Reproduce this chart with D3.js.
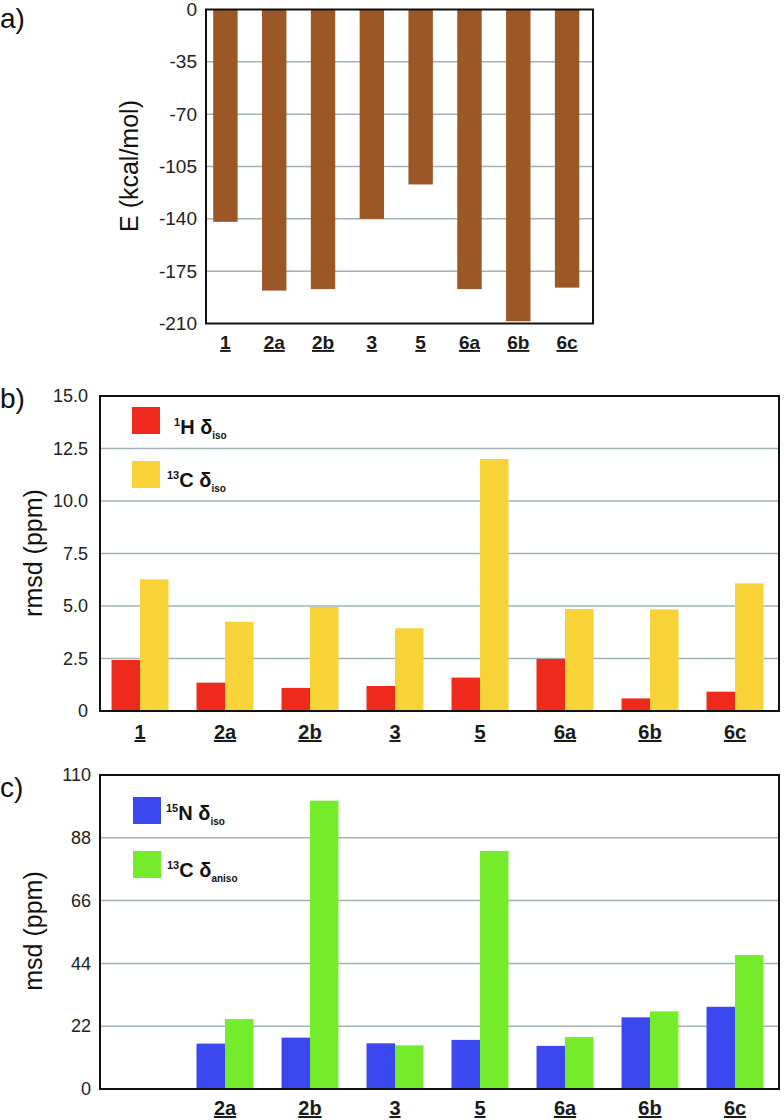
<!DOCTYPE html>
<html><head><meta charset="utf-8">
<script src="https://cdn.jsdelivr.net/npm/d3@7"></script>
<style>
body{margin:0;background:#fff;}
svg{display:block;font-family:"Liberation Sans",Arial,Helvetica,sans-serif;}
</style></head>
<body><svg id="c" width="784" height="1120"></svg>
<script>
// ---- data ----
const categories = ["1","2a","2b","3","5","6a","6b","6c"];
const labelsC = ["","2a","2b","3","5","6a","6b","6c"];
const energy = [-142,-188,-187,-140,-117,-187,-208.5,-186];
const ticksA = [0,-35,-70,-105,-140,-175,-210];
const rmsdH = [2.43,1.35,1.1,1.19,1.59,2.48,0.6,0.92];
const rmsdC = [6.27,4.25,4.95,3.94,12.0,4.86,4.84,6.08];
const ticksB = [0,2.5,5.0,7.5,10.0,12.5,15.0];
const msdN = [null,15.9,18.0,16.0,17.2,15.1,25.1,28.8];
const msdCaniso = [null,24.5,101.0,15.3,83.4,18.2,27.2,46.9];
const ticksC = [0,22,44,66,88,110];

const svg = d3.select("#c");
const gridColor = "#9fb3b6";
const brown = "#9b5726", red = "#ee2a1c", yellow = "#f8d337", blue = "#3b47ef", green = "#74ec2c";

function frame(x0,x1,y0,y1){
  svg.append("rect").attr("x",x0).attr("y",y0).attr("width",x1-x0).attr("height",y1-y0)
    .attr("fill","none").attr("stroke","#111").attr("stroke-width",2);
}
function grid(y,ticks,x0,x1){
  svg.append("g").selectAll("line").data(ticks.filter(t=>y(t)>y.range()[1]+2 && y(t)<y.range()[0]-2)).join("line")
    .attr("x1",x0).attr("x2",x1).attr("y1",d=>y(d)).attr("y2",d=>y(d))
    .attr("stroke",gridColor).attr("stroke-width",1.5);
}
function yAxis(y,ticks,x,fmt,size,dx){
  const ax = d3.axisLeft(y).tickValues(ticks).tickFormat(fmt).tickSize(0).tickPadding(dx);
  const g = svg.append("g").attr("transform",`translate(${x},0)`).call(ax);
  g.select(".domain").remove();
  g.selectAll("text").attr("font-size",size).attr("fill","#222")
    .attr("font-family","Liberation Sans, Arial, sans-serif");
}
function xLabels(x,labels,yb,size){
  svg.append("g").selectAll("text").data(categories).join("text")
    .attr("x",d=>x(d)+x.bandwidth()/2).attr("y",yb).attr("text-anchor","middle")
    .attr("font-size",size).attr("font-weight","bold").attr("fill","#1a1a1a")
    .attr("text-decoration","underline")
    .text((d,i)=>labels[i]);
}
function panelLabel(t,x,y){
  svg.append("text").attr("x",x).attr("y",y).attr("font-size",28).attr("fill","#111").text(t);
}
function yTitle(t,x,y){
  svg.append("text").attr("transform",`translate(${x},${y}) rotate(-90)`).attr("text-anchor","middle")
    .attr("font-size",25).attr("fill","#111").text(t);
}
function legendItem(color,x,y,sup,main,sub,tx,tb){
  svg.append("rect").attr("x",x).attr("y",y).attr("width",28).attr("height",27).attr("fill",color);
  const t = svg.append("text").attr("x",tx).attr("y",tb).attr("font-weight","bold").attr("fill","#111");
  t.append("tspan").attr("font-size",11).attr("dy",-8).text(sup);
  t.append("tspan").attr("font-size",20).attr("dy",8).text(main);
  t.append("tspan").attr("font-size",10).attr("dy",5).text(sub);
}

// ---- panel a ----
{
  const x = d3.scaleBand().domain(categories).range([201,591.5]).paddingInner(0.5).paddingOuter(0.25);
  const y = d3.scaleLinear().domain([-210,0]).range([323.5,9.5]);
  grid(y,ticksA,206,593);
  svg.append("g").selectAll("rect").data(energy).join("rect")
    .attr("x",(d,i)=>x(categories[i])).attr("width",x.bandwidth())
    .attr("y",y(0)).attr("height",d=>y(d)-y(0)).attr("fill",brown);
  frame(206,593,9.5,323.5);
  yAxis(y,ticksA,206,d=>String(d),19,9);
  xLabels(x,categories,349,19);
  panelLabel("a)",0,28);
  yTitle("E (kcal/mol)",138,166);
}

// ---- panel b ----
{
  const x = d3.scaleBand().domain(categories).range([97.5,777.5]).paddingInner(0.33).paddingOuter(0.165);
  const xs = d3.scaleBand().domain([0,1]).range([0,x.bandwidth()]);
  const y = d3.scaleLinear().domain([0,15]).range([711,396]);
  grid(y,ticksB,100,779);
  const g = svg.append("g");
  [[rmsdH,red],[rmsdC,yellow]].forEach(([vals,col],k)=>{
    g.append("g").selectAll("rect").data(vals).join("rect")
      .attr("x",(d,i)=>x(categories[i])+xs(k)).attr("width",xs.bandwidth())
      .attr("y",d=>y(d)).attr("height",d=>y(0)-y(d)).attr("fill",col);
  });
  frame(100,779,396,711);
  yAxis(y,ticksB,100,d=>d===0?"0":d3.format(".1f")(d),18,12);
  xLabels(x,categories,739,20);
  panelLabel("b)",0,408);
  yTitle("rmsd (ppm)",42,553);
  legendItem(red,132,407,"1","H δ","iso",174,434);
  legendItem(yellow,132,461,"13","C δ","iso",167,487);
}

// ---- panel c ----
{
  const x = d3.scaleBand().domain(categories).range([97.5,777.5]).paddingInner(0.33).paddingOuter(0.165);
  const xs = d3.scaleBand().domain([0,1]).range([0,x.bandwidth()]);
  const y = d3.scaleLinear().domain([0,110]).range([1089,775]);
  grid(y,ticksC,100,779);
  const g = svg.append("g");
  [[msdN,blue],[msdCaniso,green]].forEach(([vals,col],k)=>{
    g.append("g").selectAll("rect").data(vals.map((v,i)=>({v,c:categories[i]})).filter(d=>d.v!==null)).join("rect")
      .attr("x",d=>x(d.c)+xs(k)).attr("width",xs.bandwidth())
      .attr("y",d=>y(d.v)).attr("height",d=>y(0)-y(d.v)).attr("fill",col);
  });
  frame(100,779,775,1089);
  yAxis(y,ticksC,100,d=>String(d),18,9);
  xLabels(x,labelsC,1115,20);
  panelLabel("c)",0,797);
  yTitle("msd (ppm)",42,931);
  legendItem(blue,133,797,"15","N δ","iso",166,820);
  legendItem(green,133,851,"13","C δ","aniso",167,877);
}
</script></body></html>
